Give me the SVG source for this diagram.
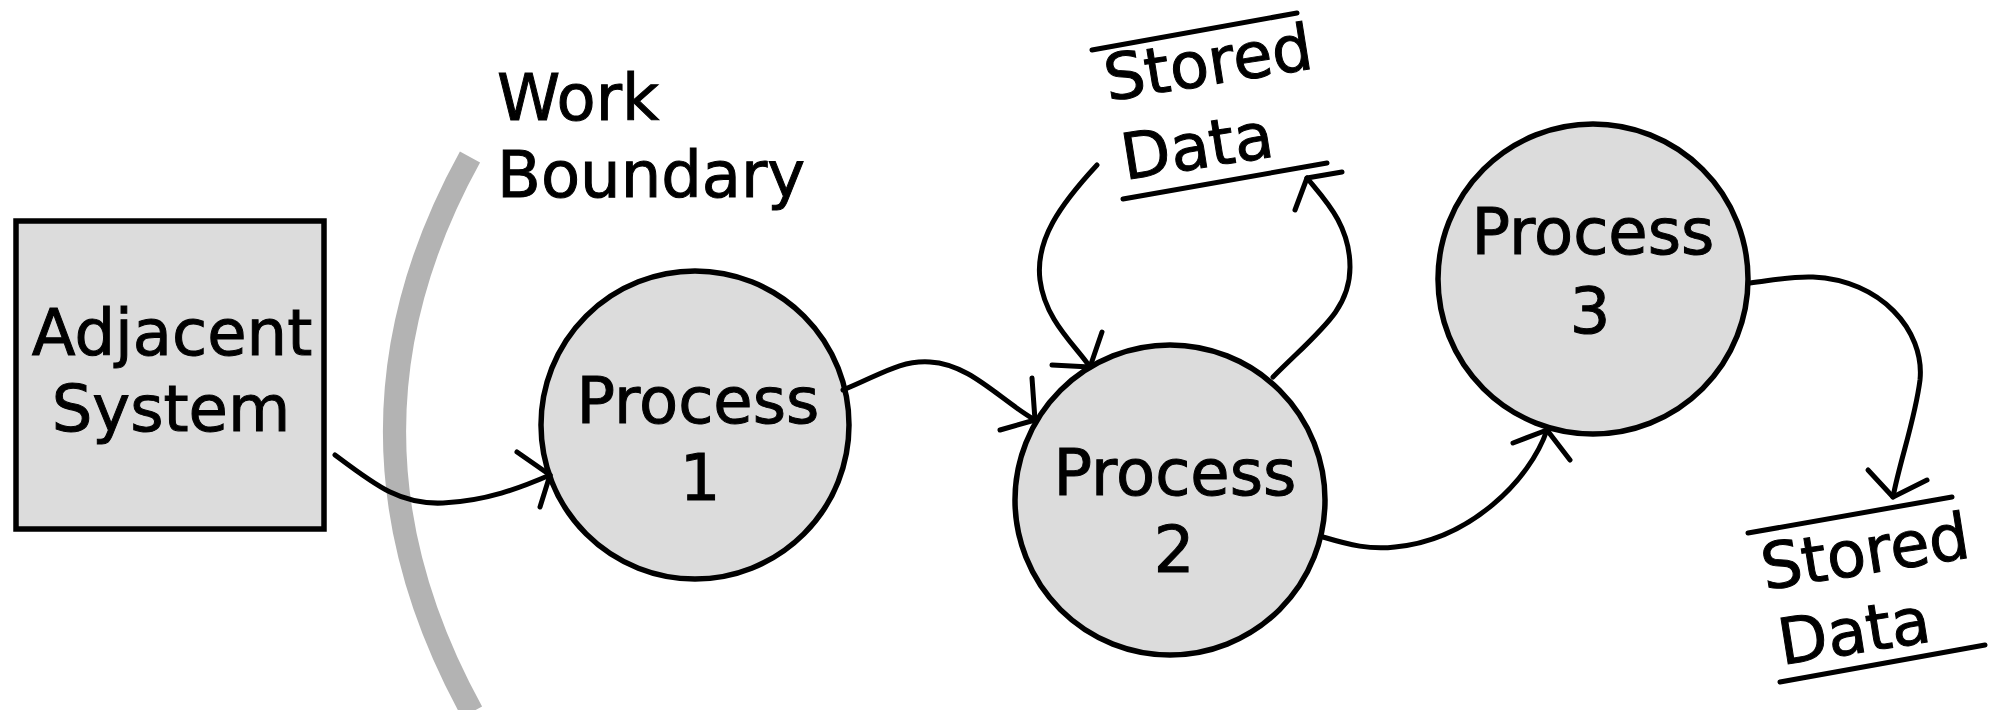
<svg xmlns="http://www.w3.org/2000/svg" width="2004" height="710" viewBox="0 0 2004 710">
<style>
text{font-family:"DejaVu Sans","Liberation Sans",sans-serif;font-size:64px;fill:#000;stroke:#000;stroke-width:1}
.c{text-anchor:middle}
.shape{fill:#dcdcdc;stroke:#000;stroke-width:5.5}
.conn{fill:none;stroke:#000;stroke-width:5;stroke-linecap:round;stroke-linejoin:round}
.bar{stroke:#000;stroke-width:5;stroke-linecap:round}
</style>
<rect width="2004" height="710" fill="#fff"/>
<g id="work-boundary">
<path d="M470,157 Q318,432 472,712" fill="none" stroke="#b3b3b3" stroke-width="23"/>
<text x="497" y="120">Work</text>
<text x="497" y="197">Boundary</text>
</g>
<g id="adjacent-system">
<rect class="shape" x="16" y="221" width="308" height="308"/>
<text class="c" x="172" y="355">Adjacent</text>
<text class="c" x="171" y="431">System</text>
</g>
<g id="process-1">
<circle class="shape" cx="695" cy="425" r="154"/>
<text class="c" x="698" y="423">Process</text>
<text class="c" x="700" y="500">1</text>
</g>
<g id="process-2">
<circle class="shape" cx="1170" cy="500" r="155"/>
<text class="c" x="1175" y="495">Process</text>
<text class="c" x="1174" y="572">2</text>
</g>
<g id="process-3">
<circle class="shape" cx="1593" cy="279" r="155"/>
<text class="c" x="1593" y="254">Process</text>
<text class="c" x="1590" y="333">3</text>
</g>
<g id="stored-data-1">
<line class="bar" x1="1092" y1="50" x2="1297" y2="13"/>
<text transform="translate(1108,101) rotate(-9)">Stored</text>
<text transform="translate(1125,180) rotate(-9)">Data</text>
<line class="bar" x1="1123" y1="199" x2="1327" y2="163"/>
</g>
<g id="stored-data-2">
<line class="bar" x1="1748" y1="533" x2="1952" y2="497"/>
<text transform="translate(1765,590) rotate(-9)">Stored</text>
<text transform="translate(1782,665) rotate(-9)">Data</text>
<line class="bar" x1="1780" y1="682" x2="1985" y2="645"/>
</g>
<g id="connectors">
<path class="conn" d="M335,455 C375,485 400,505 443,503 S520,488 550,475"/>
<path class="conn" d="M517,452 L550,475 L540,507"/>
<path class="conn" d="M843,390 C880,375 900,360 930,362 C970,364 1000,400 1035,420"/>
<path class="conn" d="M1032,378 L1035,420 L1000,430"/>
<path class="conn" d="M1097,165 C1060,205 1035,240 1040,280 C1045,320 1075,345 1090,367"/>
<path class="conn" d="M1102,332 L1090,367 L1052,365"/>
<path class="conn" d="M1273,377 C1320,330 1350,310 1350,267 C1350,225 1325,200 1307,178"/>
<path class="conn" d="M1295,210 L1307,178 L1342,172"/>
<path class="conn" d="M1323,537 C1350,545 1370,550 1395,547 C1470,540 1530,480 1547,430"/>
<path class="conn" d="M1513,443 L1547,430 L1570,460"/>
<path class="conn" d="M1750,283 C1780,279 1795,276 1813,277 C1880,280 1925,330 1920,380 C1915,420 1900,460 1893,497"/>
<path class="conn" d="M1868,470 L1893,497 L1927,480"/>
</g>
</svg>
